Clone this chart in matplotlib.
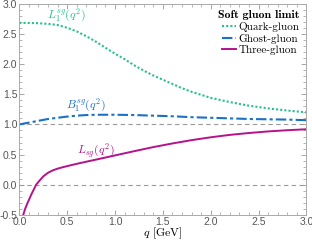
import matplotlib
matplotlib.use("Agg")
import matplotlib.pyplot as plt
from matplotlib.ticker import MultipleLocator

plt.rcParams["font.family"] = "serif"
plt.rcParams["font.serif"] = ["cmr10"]
plt.rcParams["mathtext.fontset"] = "cm"
plt.rcParams["axes.unicode_minus"] = False

# quark-gluon L_1^sg
q_qg = [0.0, 0.1, 0.2, 0.3, 0.4, 0.5, 0.6, 0.7, 0.8, 0.9, 1.0, 1.1, 1.2, 1.3,
        1.4, 1.5, 1.6, 1.7, 1.8, 1.9, 2.0, 2.2, 2.4, 2.6, 2.8, 3.0]
qg = [2.68, 2.68, 2.675, 2.665, 2.645, 2.60, 2.54, 2.46, 2.37, 2.27, 2.17, 2.08,
      1.98, 1.89, 1.81, 1.74, 1.67, 1.60, 1.54, 1.49, 1.44, 1.37, 1.31, 1.265,
      1.23, 1.20]

# ghost-gluon B_1^sg
q_gg = [0.0, 0.1, 0.2, 0.3, 0.4, 0.5, 0.6, 0.7, 0.8, 0.9, 1.0, 1.2, 1.4, 1.6,
        1.8, 2.0, 2.2, 2.4, 2.6, 2.8, 3.0]
gg = [1.00, 1.03, 1.06, 1.09, 1.11, 1.13, 1.145, 1.155, 1.16, 1.16, 1.16, 1.155,
      1.145, 1.135, 1.12, 1.11, 1.10, 1.09, 1.085, 1.08, 1.07]

# three-gluon L_sg
q_3g = [0.04, 0.06, 0.08, 0.1, 0.125, 0.15, 0.175, 0.2, 0.25, 0.3, 0.35, 0.4,
        0.45, 0.5, 0.6, 0.7, 0.8, 0.9, 1.0, 1.2, 1.4, 1.6, 1.8, 2.0, 2.2, 2.4,
        2.6, 2.8, 3.0]
g3 = [-0.50, -0.40, -0.32, -0.25, -0.16, -0.08, 0.0, 0.05, 0.14, 0.20, 0.24,
      0.268, 0.29, 0.31, 0.348, 0.383, 0.417, 0.452, 0.487, 0.557, 0.625,
      0.685, 0.74, 0.787, 0.827, 0.858, 0.884, 0.904, 0.92]

c_qg = "#22c48a"
c_gg = "#1a72c7"
c_3g = "#b5128c"

fig = plt.figure(figsize=(3.12, 2.4), dpi=100)
ax = fig.add_axes([0.062, 0.104, 0.92, 0.881])

ax.axhline(1.0, color="#999999", lw=0.8, ls=(0, (4, 3)), zorder=1)
ax.axhline(0.0, color="#999999", lw=0.8, ls=(0, (4, 3)), zorder=1)

ax.plot(q_qg, qg, color=c_qg, lw=1.5, ls=(0, (1, 1)), label="Quark-gluon")
ax.plot(q_gg, gg, color=c_gg, lw=1.5, ls=(0, (5, 1.5, 1.5, 1.5)),
        label="Ghost-gluon")
ax.plot(q_3g, g3, color=c_3g, lw=1.4, label="Three-gluon")

ax.text(0.29, 2.81, r"$L_1^{sg}(q^2)$", color=c_qg, fontsize=8.5, ha="left",
        va="center")
ax.text(0.49, 1.32, r"$B_1^{sg}(q^2)$", color=c_gg, fontsize=8.5, ha="left",
        va="center")
ax.text(0.60, 0.56, r"$L_{sg}(q^2)$", color=c_3g, fontsize=8.5, ha="left",
        va="center")

ax.set_xlim(0, 3)
ax.set_ylim(-0.5, 3.0)
ax.xaxis.set_major_locator(MultipleLocator(0.5))
ax.xaxis.set_minor_locator(MultipleLocator(0.1))
ax.yaxis.set_major_locator(MultipleLocator(0.5))
ax.yaxis.set_minor_locator(MultipleLocator(0.1))
ax.tick_params(which="both", direction="in", top=True, right=True,
               color="#999999", labelcolor="#555555", labelsize=7.5,
               labelfontfamily="Liberation Sans", pad=1.5)
ax.tick_params(which="major", length=3.5, width=0.6)
ax.tick_params(which="minor", length=2, width=0.5)
for s in ax.spines.values():
    s.set_color("#aaaaaa")
    s.set_linewidth(0.7)

ax.set_xlabel(r"$q$ [GeV]", fontsize=8.5)
ax.xaxis.set_label_coords(0.5, -0.088)
ax.xaxis.label.set_va("center")

leg = ax.legend(loc="upper right", frameon=False, fontsize=8,
                handlelength=1.3, handletextpad=0.2, labelspacing=0.15,
                borderaxespad=0.2, title="Soft gluon limit",
                title_fontproperties={"family": "cmb10", "size": 8.5})
leg._legend_box.align = "right"

fig.savefig("out.png", dpi=100)
